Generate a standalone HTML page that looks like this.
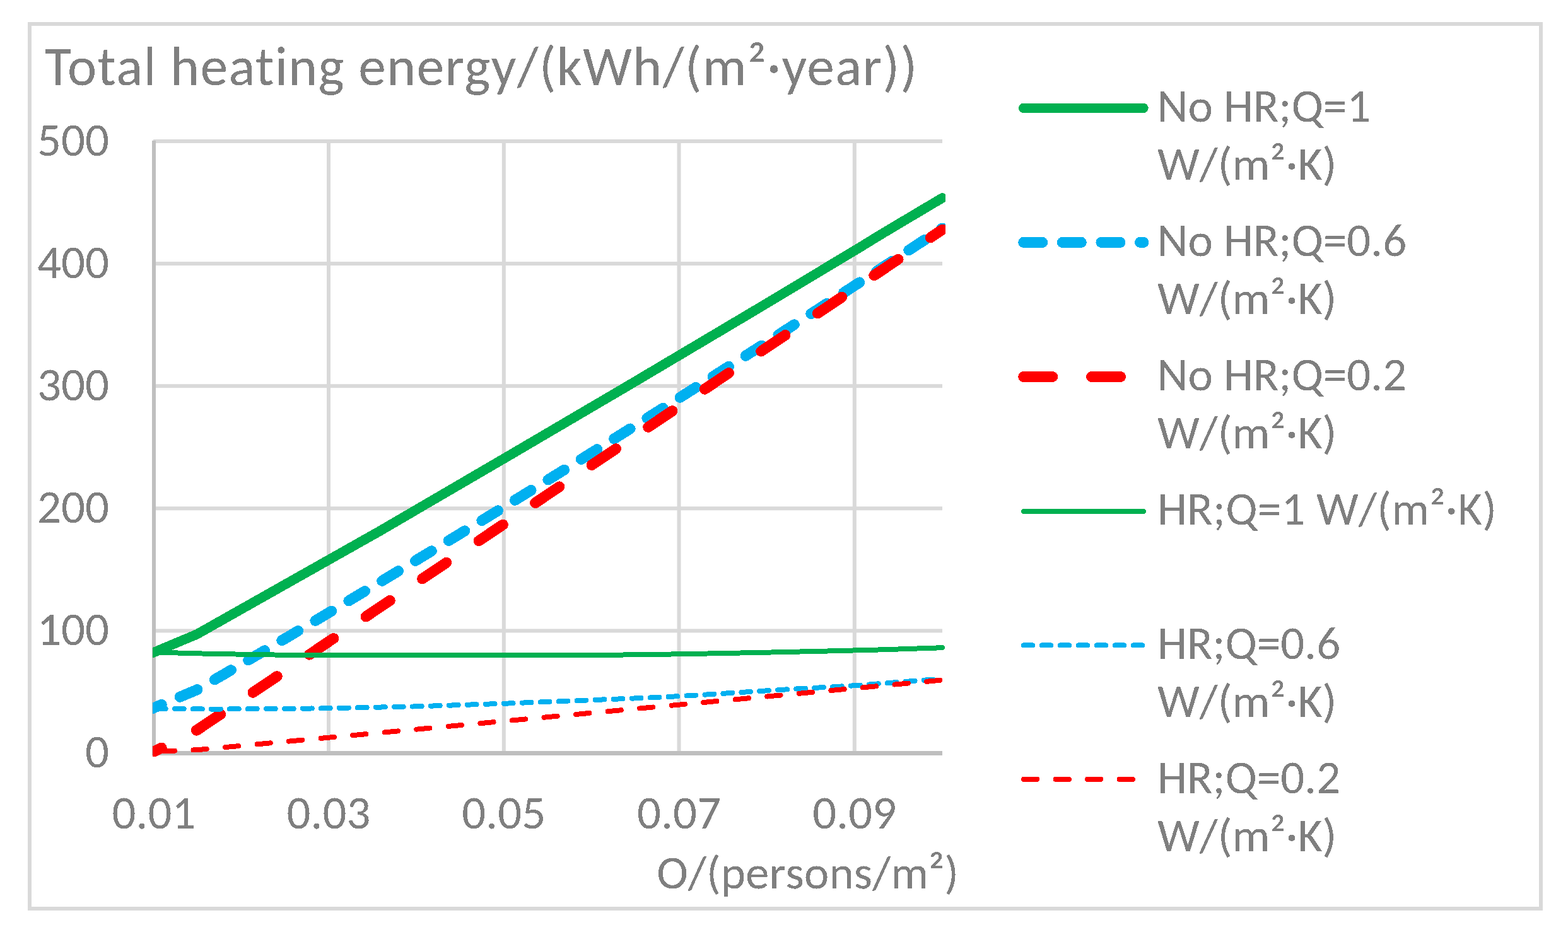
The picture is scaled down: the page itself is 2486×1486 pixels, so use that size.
<!DOCTYPE html>
<html><head><meta charset="utf-8"><title>Total heating energy chart</title>
<style>html,body{margin:0;padding:0;background:#fff;}body{width:2486px;height:1486px;overflow:hidden;}svg{display:block;}</style>
</head><body>
<svg width="2486" height="1486" viewBox="0 0 2486 1486">
<rect x="0" y="0" width="2486" height="1486" fill="#fff"/>
<rect x="47" y="38" width="2396" height="1403" fill="none" stroke="#d9d9d9" stroke-width="6"/>
<rect x="243" y="221.0" width="1251" height="6" fill="#d9d9d9"/>
<rect x="243" y="415.1" width="1251" height="6" fill="#d9d9d9"/>
<rect x="243" y="609.2" width="1251" height="6" fill="#d9d9d9"/>
<rect x="243" y="803.3" width="1251" height="6" fill="#d9d9d9"/>
<rect x="243" y="997.4" width="1251" height="6" fill="#d9d9d9"/>
<rect x="518.0" y="221" width="6" height="970" fill="#d9d9d9"/>
<rect x="795.8" y="221" width="6" height="970" fill="#d9d9d9"/>
<rect x="1073.5" y="221" width="6" height="970" fill="#d9d9d9"/>
<rect x="1351.8" y="221" width="6" height="970" fill="#d9d9d9"/>
<rect x="241" y="223" width="6" height="972" fill="#bfbfbf"/>
<rect x="241" y="1191" width="1253" height="7" fill="#bfbfbf"/>
<defs><filter id="crisp" x="0" y="0" width="1" height="1" color-interpolation-filters="sRGB"><feComponentTransfer><feFuncA type="discrete" tableValues="0 1"/></feComponentTransfer></filter><clipPath id="pc"><rect x="242" y="0" width="1257" height="1200"/></clipPath></defs>
<g clip-path="url(#pc)" fill="none" stroke-linecap="round" stroke-linejoin="round" shape-rendering="crispEdges">
<path d="M234.0,1038.7 L244.0,1034.5 L312.6,1005.7 L460.0,922.4 L600.0,843.4 L800.0,726.7 L1000.0,609.2 L1200.0,490.4 L1354.8,397.5 L1400.0,369.8 L1494.0,313.9" stroke="#00b050" stroke-width="15.4"/>
<path d="M234.0,1126.9 L244.0,1122.6 L312.6,1093.8 L371.7,1059.7 L430.7,1025.3 L489.8,990.4 L548.9,955.3 L608.0,919.9 L667.0,884.3 L726.1,848.5 L785.2,812.5 L844.2,776.2 L903.3,739.7 L962.4,702.9 L1021.4,666.0 L1080.5,628.8 L1139.6,591.3 L1198.7,553.7 L1257.7,515.8 L1316.8,477.7 L1375.9,439.4 L1434.9,400.8 L1494.0,362.0" stroke="#00b0f0" stroke-width="17" stroke-dasharray="30 31.63" stroke-dashoffset="5.93"/>
<path d="M234.0,1197.2 L244.0,1192.2 L312.6,1157.6 L1494.0,364.2" stroke="#ff0000" stroke-width="17" stroke-dasharray="46 61.85" stroke-dashoffset="21.2"/>
<path d="M244.0,1034.5 L320.0,1036.5 L400.0,1038.0 L470.0,1039.0 L950.0,1039.0 L1080.0,1037.3 L1200.0,1035.0 L1300.0,1032.8 L1400.0,1030.3 L1494.0,1027.2" stroke="#00b050" stroke-width="8"/>
<path d="M244.0,1123.8 L330.0,1124.6 L450.0,1124.0 L520.0,1123.2 L660.0,1120.4 L806.0,1115.5 L922.0,1110.8 L1038.0,1106.2 L1100.0,1102.8 L1240.0,1093.8 L1356.0,1087.2 L1472.0,1078.1 L1489.0,1077.0" stroke="#00b0f0" stroke-width="8" stroke-dasharray="14.8 14.2" stroke-dashoffset="25.1"/>
<path d="M244.0,1192.0 L313.0,1189.2 L1494.0,1078.5" stroke="#ff0000" stroke-width="8" stroke-dasharray="21.3 29.47" stroke-dashoffset="39.08"/>
</g>
<g font-family="Carlito, 'Liberation Sans', sans-serif" fill="#7f7f7f" filter="url(#crisp)" style="font-size-adjust:0.4775;font-kerning:none;font-variant-ligatures:none;font-feature-settings:'liga' 0,'clig' 0,'kern' 0">
<text x="70.7" y="134.9" font-size="87.5" letter-spacing="1.4" textLength="1384.7" lengthAdjust="spacingAndGlyphs" style="font-kerning:normal;font-feature-settings:'liga' 0,'clig' 0,'kern' 1">Total heating energy/(kWh/(m²·year))</text>
<text x="173" y="246.6" font-size="75" text-anchor="end" textLength="114.05" lengthAdjust="spacingAndGlyphs">500</text>
<text x="173" y="440.7" font-size="75" text-anchor="end" textLength="114.05" lengthAdjust="spacingAndGlyphs">400</text>
<text x="173" y="634.8" font-size="75" text-anchor="end" textLength="114.05" lengthAdjust="spacingAndGlyphs">300</text>
<text x="173" y="828.9" font-size="75" text-anchor="end" textLength="114.05" lengthAdjust="spacingAndGlyphs">200</text>
<text x="173" y="1023.0" font-size="75" text-anchor="end" textLength="114.05" lengthAdjust="spacingAndGlyphs">100</text>
<text x="173" y="1217.1" font-size="75" text-anchor="end" textLength="38.02" lengthAdjust="spacingAndGlyphs">0</text>
<text x="244.0" y="1313.5" font-size="75" text-anchor="middle" textLength="132.98" lengthAdjust="spacingAndGlyphs">0.01</text>
<text x="521.0" y="1313.5" font-size="75" text-anchor="middle" textLength="132.98" lengthAdjust="spacingAndGlyphs">0.03</text>
<text x="798.8" y="1313.5" font-size="75" text-anchor="middle" textLength="132.98" lengthAdjust="spacingAndGlyphs">0.05</text>
<text x="1076.5" y="1313.5" font-size="75" text-anchor="middle" textLength="132.98" lengthAdjust="spacingAndGlyphs">0.07</text>
<text x="1354.8" y="1313.5" font-size="75" text-anchor="middle" textLength="132.98" lengthAdjust="spacingAndGlyphs">0.09</text>
<text x="1520" y="1409.3" font-size="75" text-anchor="end" textLength="478.69" lengthAdjust="spacingAndGlyphs">O/(persons/m²)</text>
<text x="1835" y="192.8" font-size="75" textLength="338.28" lengthAdjust="spacingAndGlyphs">No HR;Q=1</text>
<text x="1835" y="284.7" font-size="75" textLength="284.19" lengthAdjust="spacingAndGlyphs">W/(m²·K)</text>
<text x="1835" y="405.8" font-size="75" textLength="395.22" lengthAdjust="spacingAndGlyphs">No HR;Q=0.6</text>
<text x="1835" y="497.7" font-size="75" textLength="284.19" lengthAdjust="spacingAndGlyphs">W/(m²·K)</text>
<text x="1835" y="618.8" font-size="75" textLength="395.22" lengthAdjust="spacingAndGlyphs">No HR;Q=0.2</text>
<text x="1835" y="710.7" font-size="75" textLength="284.19" lengthAdjust="spacingAndGlyphs">W/(m²·K)</text>
<text x="1835" y="831.8" font-size="75" letter-spacing="0.25" textLength="538.25" lengthAdjust="spacingAndGlyphs">HR;Q=1 W/(m²·K)</text>
<text x="1835" y="1044.8" font-size="75" textLength="290.3" lengthAdjust="spacingAndGlyphs">HR;Q=0.6</text>
<text x="1835" y="1136.7" font-size="75" textLength="284.19" lengthAdjust="spacingAndGlyphs">W/(m²·K)</text>
<text x="1835" y="1257.8" font-size="75" textLength="290.3" lengthAdjust="spacingAndGlyphs">HR;Q=0.2</text>
<text x="1835" y="1349.7" font-size="75" textLength="284.19" lengthAdjust="spacingAndGlyphs">W/(m²·K)</text>
</g>
<g fill="none" stroke-linecap="round" shape-rendering="crispEdges">
<path d="M1622.7,171.4 L1813,171.4" stroke="#00b050" stroke-width="15.4"/>
<path d="M1622.7,384.4 L1813,384.4" stroke="#00b0f0" stroke-width="17" stroke-dasharray="30 31.63"/>
<path d="M1622.7,597.5 L1813,597.5" stroke="#ff0000" stroke-width="17" stroke-dasharray="46 61.85"/>
<path d="M1623,811 L1812.8,811" stroke="#00b050" stroke-width="8"/>
<path d="M1623,1023.4 L1812,1023.4" stroke="#00b0f0" stroke-width="8" stroke-dasharray="14.1 14.9"/>
<path d="M1623,1235.8 L1812,1235.8" stroke="#ff0000" stroke-width="8" stroke-dasharray="21.3 29.2"/>
</g>
</svg>
</body></html>
